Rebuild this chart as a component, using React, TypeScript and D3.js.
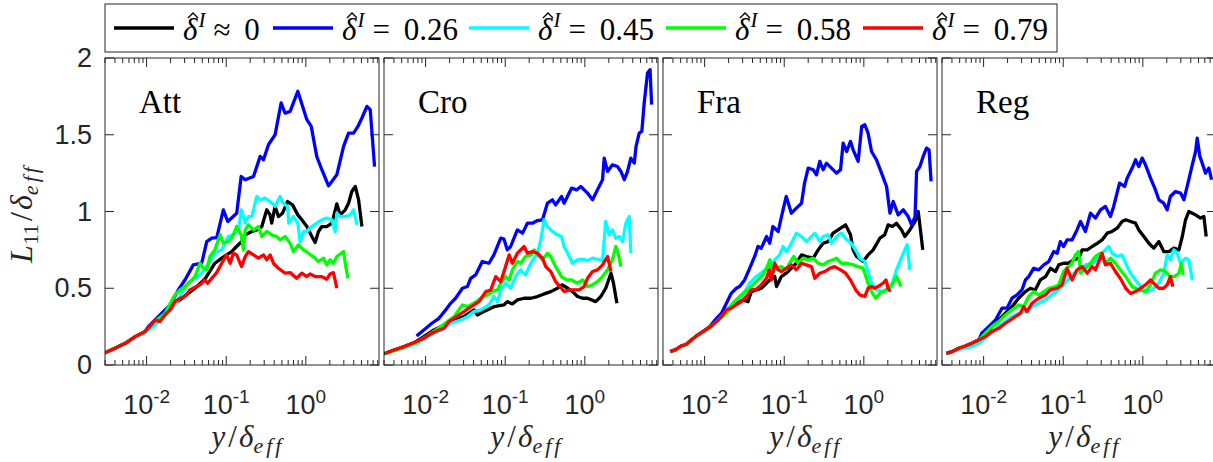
import React, { useRef, useEffect } from 'react';
import * as d3 from 'd3';

type Pt = [number, number];

const panelNames = ['Att', 'Cro', 'Fra', 'Reg'];
const seriesLabels = ['≈ 0', '= 0.26', '= 0.45', '= 0.58', '= 0.79'];
const seriesColors = ['#000000', '#0000ff', '#00ffff', '#00ff00', '#ff0000'];
const yTicks = [0, 0.5, 1, 1.5, 2];
const yTickLabels = ['0', '0.5', '1', '1.5', '2'];
const xTickExps = [-2, -1, 0];

// ---- Att ----
const attBlack: Pt[] = [[0.0029, 0.076], [0.004, 0.109], [0.0054, 0.141], [0.0072, 0.185], [0.0095, 0.217], [0.0127, 0.27], [0.017, 0.33], [0.0227, 0.40], [0.0303, 0.45], [0.0405, 0.50], [0.054, 0.56], [0.072, 0.663], [0.0878, 0.696], [0.101, 0.717], [0.117, 0.739], [0.135, 0.772], [0.156, 0.804], [0.173, 0.848], [0.21, 0.87], [0.242, 0.88], [0.28, 0.902], [0.323, 1.011], [0.356, 0.978], [0.373, 0.924], [0.411, 1.033], [0.453, 0.967], [0.51, 0.989], [0.59, 1.065], [0.68, 1.043], [0.793, 0.978], [0.89, 0.946], [1.03, 0.902], [1.19, 0.837], [1.31, 0.798], [1.44, 0.87], [1.59, 0.902], [1.83, 0.902], [2.13, 0.924], [2.45, 1.05], [2.70, 0.978], [3.13, 1.011], [3.44, 1.054], [3.78, 1.13], [4.18, 1.163], [4.6, 1.076], [5.06, 0.902]];
const attBlue: Pt[] = [[0.0029, 0.076], [0.004, 0.109], [0.0054, 0.141], [0.0072, 0.185], [0.0095, 0.217], [0.0105, 0.25], [0.0197, 0.391], [0.025, 0.489], [0.0303, 0.554], [0.0386, 0.652], [0.0492, 0.663], [0.0569, 0.804], [0.0658, 0.826], [0.076, 0.83], [0.092, 1.011], [0.1045, 0.935], [0.1355, 0.989], [0.154, 1.228], [0.173, 1.207], [0.22, 1.228], [0.267, 1.359], [0.294, 1.337], [0.339, 1.435], [0.411, 1.5], [0.489, 1.707], [0.549, 1.641], [0.635, 1.652], [0.793, 1.783], [1.03, 1.598], [1.17, 1.554], [1.37, 1.359], [1.59, 1.272], [1.93, 1.167], [2.45, 1.239], [2.98, 1.424], [3.44, 1.511], [3.98, 1.511], [4.51, 1.554], [5.06, 1.609], [5.85, 1.685], [6.44, 1.663], [7.3, 1.293]];
const attCyan: Pt[] = [[0.0029, 0.076], [0.004, 0.109], [0.0054, 0.141], [0.0072, 0.18], [0.0095, 0.21], [0.0127, 0.26], [0.017, 0.33], [0.021, 0.37], [0.025, 0.424], [0.029, 0.489], [0.0335, 0.533], [0.0405, 0.565], [0.0492, 0.598], [0.06, 0.663], [0.072, 0.728], [0.0878, 0.75], [0.106, 0.837], [0.123, 0.848], [0.142, 0.88], [0.156, 1.011], [0.173, 0.924], [0.19, 0.967], [0.21, 0.967], [0.242, 1.098], [0.267, 1.076], [0.308, 1.087], [0.356, 1.065], [0.411, 1.033], [0.475, 1.098], [0.52, 1.054], [0.59, 1.033], [0.61, 0.924], [0.7, 0.967], [0.793, 0.924], [0.849, 0.804], [0.94, 0.87], [1.03, 0.87], [1.19, 0.902], [1.37, 0.924], [1.59, 0.946], [1.83, 0.957], [2.13, 0.946], [2.34, 0.87], [2.45, 0.989], [2.70, 0.967], [3.13, 0.967], [3.61, 0.978], [3.98, 1.011], [4.4, 0.913]];
const attGreen: Pt[] = [[0.0029, 0.076], [0.004, 0.109], [0.0054, 0.141], [0.0072, 0.185], [0.0095, 0.217], [0.0127, 0.283], [0.017, 0.337], [0.0197, 0.398], [0.0227, 0.457], [0.0263, 0.489], [0.0303, 0.511], [0.035, 0.543], [0.0405, 0.576], [0.0468, 0.663], [0.0515, 0.63], [0.057, 0.62], [0.0625, 0.707], [0.072, 0.75], [0.084, 0.848], [0.092, 0.793], [0.106, 0.804], [0.12, 0.837], [0.135, 0.902], [0.154, 0.848], [0.165, 0.75], [0.173, 0.88], [0.19, 0.913], [0.22, 0.88], [0.254, 0.902], [0.28, 0.837], [0.323, 0.87], [0.373, 0.848], [0.43, 0.837], [0.475, 0.815], [0.549, 0.837], [0.635, 0.793], [0.7, 0.739], [0.81, 0.783], [0.94, 0.75], [1.08, 0.728], [1.31, 0.696], [1.44, 0.674], [1.67, 0.696], [1.83, 0.652], [2.02, 0.685], [2.22, 0.663], [2.45, 0.707], [2.98, 0.739], [3.13, 0.663], [3.37, 0.565]];
const attRed: Pt[] = [[0.0029, 0.076], [0.004, 0.109], [0.0054, 0.141], [0.0072, 0.185], [0.0095, 0.217], [0.011, 0.25], [0.0127, 0.293], [0.0147, 0.283], [0.017, 0.326], [0.0197, 0.359], [0.0227, 0.413], [0.0263, 0.435], [0.0303, 0.446], [0.035, 0.489], [0.0405, 0.507], [0.0468, 0.522], [0.054, 0.554], [0.0585, 0.532], [0.0658, 0.565], [0.076, 0.602], [0.0878, 0.663], [0.101, 0.717], [0.112, 0.663], [0.123, 0.728], [0.135, 0.717], [0.156, 0.641], [0.173, 0.706], [0.19, 0.739], [0.22, 0.717], [0.254, 0.696], [0.294, 0.717], [0.323, 0.685], [0.356, 0.717], [0.392, 0.663], [0.453, 0.63], [0.549, 0.598], [0.635, 0.602], [0.765, 0.565], [0.89, 0.598], [1.03, 0.576], [1.13, 0.593], [1.31, 0.576], [1.59, 0.576], [1.83, 0.559], [2.02, 0.593], [2.22, 0.602], [2.34, 0.55], [2.45, 0.5]];

// ---- Cro ----
const croBlack: Pt[] = [[0.003, 0.072], [0.004, 0.098], [0.0054, 0.12], [0.0072, 0.146], [0.0095, 0.185], [0.0127, 0.228], [0.0155, 0.25], [0.0206, 0.283], [0.0303, 0.315], [0.0405, 0.359], [0.0445, 0.326], [0.054, 0.348], [0.072, 0.38], [0.0966, 0.391], [0.106, 0.413], [0.123, 0.398], [0.142, 0.424], [0.173, 0.435], [0.21, 0.435], [0.254, 0.446], [0.308, 0.463], [0.373, 0.478], [0.453, 0.5], [0.52, 0.522], [0.61, 0.5], [0.7, 0.478], [0.81, 0.446], [0.94, 0.435], [1.08, 0.435], [1.37, 0.413], [1.59, 0.446], [1.83, 0.5], [2.13, 0.598], [2.29, 0.533], [2.53, 0.402]];
const croBlue: Pt[] = [[0.0077, 0.189], [0.0095, 0.228], [0.012, 0.272], [0.0147, 0.304], [0.0179, 0.359], [0.0206, 0.402], [0.0238, 0.435], [0.029, 0.5], [0.0335, 0.511], [0.0368, 0.565], [0.0425, 0.587], [0.0515, 0.674], [0.0625, 0.663], [0.072, 0.717], [0.0878, 0.826], [0.0966, 0.82], [0.106, 0.75], [0.117, 0.772], [0.142, 0.88], [0.165, 0.859], [0.19, 0.924], [0.22, 0.924], [0.254, 0.941], [0.294, 0.946], [0.339, 1.054], [0.392, 1.076], [0.43, 1.043], [0.51, 1.098], [0.549, 1.054], [0.68, 1.152], [0.793, 1.141], [0.89, 1.163], [1.08, 1.12], [1.25, 1.076], [1.44, 1.141], [1.67, 1.207], [1.75, 1.348], [1.93, 1.261], [2.22, 1.304], [2.57, 1.293], [2.84, 1.261], [3.13, 1.207], [3.44, 1.261], [3.78, 1.348], [4.18, 1.315], [4.4, 1.424], [4.82, 1.511], [5.2, 1.522], [5.57, 1.707], [6.13, 1.902], [6.6, 1.924], [6.9, 1.696]];
const croCyan: Pt[] = [[0.0031, 0.076], [0.0044, 0.098], [0.0059, 0.12], [0.0079, 0.141], [0.0105, 0.185], [0.0155, 0.228], [0.0206, 0.272], [0.0275, 0.293], [0.0335, 0.315], [0.0405, 0.348], [0.0492, 0.359], [0.0625, 0.391], [0.072, 0.446], [0.08, 0.413], [0.0878, 0.489], [0.101, 0.533], [0.117, 0.5], [0.135, 0.576], [0.156, 0.62], [0.18, 0.587], [0.21, 0.663], [0.254, 0.728], [0.28, 0.815], [0.308, 0.946], [0.339, 0.902], [0.392, 0.87], [0.453, 0.848], [0.51, 0.837], [0.549, 0.772], [0.61, 0.728], [0.7, 0.663], [0.81, 0.685], [0.94, 0.689], [1.08, 0.68], [1.25, 0.696], [1.44, 0.689], [1.67, 0.68], [1.83, 0.935], [2.02, 0.848], [2.22, 0.88], [2.45, 0.826], [2.70, 0.837], [2.98, 0.804], [3.28, 0.924], [3.61, 0.967], [3.78, 0.728]];
const croGreen: Pt[] = [[0.0031, 0.076], [0.0044, 0.1], [0.0059, 0.125], [0.0079, 0.15], [0.0105, 0.19], [0.0155, 0.25], [0.0188, 0.283], [0.0227, 0.315], [0.029, 0.391], [0.0335, 0.38], [0.0405, 0.402], [0.0492, 0.435], [0.06, 0.457], [0.068, 0.478], [0.08, 0.489], [0.0878, 0.533], [0.101, 0.576], [0.112, 0.554], [0.123, 0.62], [0.142, 0.674], [0.156, 0.663], [0.18, 0.707], [0.21, 0.717], [0.231, 0.75], [0.267, 0.707], [0.294, 0.685], [0.339, 0.728], [0.373, 0.707], [0.43, 0.641], [0.51, 0.576], [0.59, 0.554], [0.68, 0.554], [0.81, 0.533], [0.94, 0.554], [1.08, 0.511], [1.25, 0.522], [1.44, 0.543], [1.67, 0.576], [1.93, 0.62], [2.22, 0.685], [2.45, 0.772], [2.57, 0.75], [2.84, 0.641]];
const croRed: Pt[] = [[0.0031, 0.076], [0.004, 0.098], [0.0054, 0.12], [0.0072, 0.146], [0.0095, 0.174], [0.012, 0.207], [0.0147, 0.228], [0.017, 0.239], [0.0197, 0.283], [0.0227, 0.304], [0.0263, 0.326], [0.0303, 0.348], [0.035, 0.37], [0.0405, 0.391], [0.0468, 0.413], [0.057, 0.478], [0.0658, 0.489], [0.076, 0.576], [0.0878, 0.543], [0.101, 0.641], [0.112, 0.717], [0.123, 0.663], [0.142, 0.728], [0.173, 0.772], [0.19, 0.728], [0.22, 0.739], [0.254, 0.728], [0.294, 0.696], [0.323, 0.641], [0.373, 0.609], [0.43, 0.543], [0.51, 0.5], [0.549, 0.478], [0.635, 0.489], [0.734, 0.489], [0.849, 0.489], [0.98, 0.511], [1.08, 0.565], [1.25, 0.609], [1.44, 0.62], [1.67, 0.652], [1.93, 0.707], [2.13, 0.609]];

// ---- Fra ----
const fraBlack: Pt[] = [[0.0037, 0.087], [0.0044, 0.102], [0.0051, 0.124], [0.0059, 0.135], [0.0068, 0.163], [0.0079, 0.189], [0.0095, 0.217], [0.0116, 0.246], [0.0141, 0.283], [0.0188, 0.35], [0.025, 0.40], [0.0303, 0.424], [0.035, 0.413], [0.0386, 0.478], [0.0445, 0.489], [0.0515, 0.5], [0.06, 0.533], [0.069, 0.565], [0.076, 0.576], [0.08, 0.511], [0.092, 0.576], [0.106, 0.598], [0.117, 0.62], [0.142, 0.663], [0.165, 0.717], [0.19, 0.707], [0.231, 0.696], [0.267, 0.75], [0.308, 0.793], [0.356, 0.804], [0.411, 0.859], [0.475, 0.88], [0.59, 0.913], [0.68, 0.848], [0.734, 0.75], [0.81, 0.707], [0.98, 0.674], [1.13, 0.717], [1.31, 0.75], [1.59, 0.826], [1.83, 0.848], [2.02, 0.913], [2.29, 0.902], [2.57, 0.924], [2.98, 0.88], [3.28, 0.837], [3.78, 0.88], [4.4, 0.935], [4.82, 1.0], [5.2, 0.859], [5.5, 0.75]];
const fraBlue: Pt[] = [[0.0037, 0.087], [0.0044, 0.102], [0.0051, 0.124], [0.0059, 0.135], [0.0068, 0.163], [0.0079, 0.189], [0.0095, 0.217], [0.0116, 0.25], [0.0141, 0.304], [0.0163, 0.337], [0.0188, 0.402], [0.0216, 0.467], [0.025, 0.5], [0.0275, 0.511], [0.0318, 0.554], [0.0368, 0.63], [0.0425, 0.707], [0.0468, 0.772], [0.0515, 0.761], [0.06, 0.837], [0.0658, 0.793], [0.072, 0.902], [0.084, 0.87], [0.0966, 1.011], [0.106, 1.098], [0.123, 0.989], [0.142, 1.022], [0.165, 1.054], [0.18, 1.185], [0.2, 1.283], [0.231, 1.272], [0.254, 1.239], [0.28, 1.326], [0.308, 1.272], [0.339, 1.315], [0.392, 1.283], [0.453, 1.25], [0.51, 1.272], [0.549, 1.446], [0.61, 1.391], [0.68, 1.457], [0.734, 1.402], [0.849, 1.326], [0.94, 1.554], [1.03, 1.565], [1.13, 1.511], [1.25, 1.391], [1.44, 1.337], [1.67, 1.25], [1.93, 1.163], [2.13, 0.989], [2.34, 1.065], [2.70, 0.978], [3.13, 1.011], [3.61, 0.967], [3.98, 0.913], [4.4, 0.967], [4.6, 1.261], [5.06, 1.293], [5.57, 1.359], [6.13, 1.413], [6.6, 1.402], [7.0, 1.196]];
const fraCyan: Pt[] = [[0.0037, 0.087], [0.0044, 0.102], [0.0051, 0.124], [0.0059, 0.135], [0.0068, 0.16], [0.0079, 0.185], [0.0095, 0.21], [0.0116, 0.24], [0.0141, 0.28], [0.017, 0.326], [0.0206, 0.38], [0.025, 0.424], [0.0303, 0.457], [0.0368, 0.533], [0.0445, 0.576], [0.054, 0.609], [0.0658, 0.641], [0.076, 0.685], [0.0878, 0.717], [0.0966, 0.772], [0.106, 0.739], [0.117, 0.772], [0.129, 0.815], [0.142, 0.859], [0.165, 0.837], [0.19, 0.804], [0.21, 0.826], [0.242, 0.859], [0.28, 0.804], [0.308, 0.837], [0.356, 0.848], [0.392, 0.793], [0.453, 0.837], [0.52, 0.859], [0.61, 0.815], [0.7, 0.793], [0.81, 0.739], [0.89, 0.696], [1.03, 0.674], [1.13, 0.609], [1.25, 0.533], [1.44, 0.489], [1.75, 0.478], [2.02, 0.489], [2.22, 0.511], [2.57, 0.62], [3.13, 0.728], [3.5, 0.783], [3.78, 0.62]];
const fraGreen: Pt[] = [[0.0037, 0.087], [0.0044, 0.102], [0.0051, 0.124], [0.0059, 0.135], [0.0068, 0.163], [0.0079, 0.189], [0.0095, 0.217], [0.0116, 0.246], [0.0141, 0.283], [0.0188, 0.337], [0.0227, 0.402], [0.0263, 0.435], [0.0303, 0.467], [0.0368, 0.5], [0.0445, 0.543], [0.054, 0.587], [0.0625, 0.652], [0.0658, 0.685], [0.071, 0.598], [0.08, 0.63], [0.092, 0.641], [0.106, 0.62], [0.117, 0.663], [0.132, 0.707], [0.149, 0.663], [0.173, 0.696], [0.2, 0.685], [0.231, 0.696], [0.267, 0.663], [0.308, 0.652], [0.356, 0.674], [0.411, 0.685], [0.453, 0.696], [0.52, 0.663], [0.61, 0.663], [0.734, 0.652], [0.849, 0.641], [0.98, 0.63], [1.13, 0.533], [1.25, 0.478], [1.41, 0.435], [1.59, 0.467], [1.75, 0.478], [2.02, 0.5], [2.34, 0.533], [2.57, 0.576], [2.77, 0.543], [2.9, 0.511]];
const fraRed: Pt[] = [[0.0037, 0.087], [0.0044, 0.102], [0.0051, 0.124], [0.0059, 0.135], [0.0068, 0.163], [0.0079, 0.189], [0.0095, 0.217], [0.0116, 0.246], [0.0141, 0.283], [0.0163, 0.315], [0.0188, 0.359], [0.0216, 0.37], [0.025, 0.391], [0.029, 0.413], [0.0335, 0.446], [0.0386, 0.489], [0.0445, 0.493], [0.0515, 0.522], [0.06, 0.565], [0.0645, 0.62], [0.069, 0.554], [0.076, 0.663], [0.084, 0.62], [0.092, 0.609], [0.106, 0.63], [0.123, 0.652], [0.142, 0.62], [0.165, 0.663], [0.19, 0.652], [0.22, 0.641], [0.242, 0.565], [0.28, 0.598], [0.323, 0.609], [0.373, 0.63], [0.43, 0.641], [0.51, 0.62], [0.59, 0.598], [0.68, 0.554], [0.793, 0.489], [0.89, 0.457], [1.03, 0.446], [1.13, 0.5], [1.25, 0.511], [1.37, 0.5], [1.51, 0.511], [1.75, 0.533], [1.9, 0.554], [2.02, 0.5], [2.16, 0.478]];

// ---- Reg ----
const regBlack: Pt[] = [[0.0034, 0.076], [0.004, 0.087], [0.0049, 0.109], [0.0059, 0.124], [0.0071, 0.141], [0.0087, 0.163], [0.0105, 0.19], [0.0127, 0.25], [0.0155, 0.293], [0.0188, 0.337], [0.0227, 0.38], [0.0275, 0.435], [0.0335, 0.478], [0.0386, 0.5], [0.0445, 0.489], [0.0515, 0.554], [0.06, 0.576], [0.069, 0.63], [0.08, 0.609], [0.0878, 0.652], [0.101, 0.663], [0.117, 0.663], [0.135, 0.685], [0.156, 0.696], [0.173, 0.75], [0.2, 0.75], [0.231, 0.772], [0.267, 0.793], [0.308, 0.815], [0.356, 0.859], [0.411, 0.87], [0.475, 0.891], [0.549, 0.935], [0.61, 0.946], [0.7, 0.935], [0.81, 0.924], [0.89, 0.88], [1.03, 0.837], [1.19, 0.793], [1.37, 0.761], [1.59, 0.804], [1.83, 0.739], [2.13, 0.739], [2.45, 0.761], [2.84, 0.75], [3.13, 0.837], [3.44, 0.946], [3.78, 1.0], [4.18, 0.989], [4.6, 0.978], [5.3, 0.957], [5.85, 0.967], [6.25, 0.837]];
const regBlue: Pt[] = [[0.0034, 0.076], [0.004, 0.087], [0.0049, 0.109], [0.0059, 0.124], [0.0071, 0.141], [0.0087, 0.163], [0.0095, 0.207], [0.0116, 0.25], [0.0141, 0.293], [0.017, 0.37], [0.0197, 0.37], [0.0227, 0.435], [0.0263, 0.457], [0.0303, 0.489], [0.0335, 0.554], [0.0368, 0.576], [0.0425, 0.63], [0.0492, 0.62], [0.057, 0.652], [0.0658, 0.674], [0.076, 0.739], [0.084, 0.728], [0.092, 0.804], [0.101, 0.772], [0.112, 0.815], [0.129, 0.815], [0.149, 0.88], [0.165, 0.935], [0.19, 0.87], [0.22, 0.989], [0.254, 0.957], [0.294, 1.011], [0.339, 1.033], [0.392, 0.967], [0.43, 1.033], [0.51, 1.185], [0.59, 1.163], [0.635, 1.217], [0.734, 1.283], [0.81, 1.337], [0.89, 1.293], [0.98, 1.348], [1.08, 1.304], [1.25, 1.217], [1.44, 1.141], [1.59, 1.076], [1.83, 1.054], [2.02, 1.011], [2.22, 1.098], [2.57, 1.13], [2.98, 1.12], [3.28, 1.076], [3.78, 1.207], [4.18, 1.304], [4.6, 1.391], [4.82, 1.478], [5.2, 1.359], [5.57, 1.315], [6.13, 1.25], [6.75, 1.283], [7.3, 1.207]];
const regCyan: Pt[] = [[0.0034, 0.076], [0.004, 0.087], [0.0049, 0.1], [0.0059, 0.11], [0.0071, 0.12], [0.0087, 0.141], [0.0105, 0.174], [0.0127, 0.217], [0.0155, 0.25], [0.0188, 0.283], [0.0227, 0.315], [0.0275, 0.337], [0.0335, 0.348], [0.0405, 0.38], [0.0492, 0.402], [0.06, 0.424], [0.072, 0.457], [0.0878, 0.489], [0.106, 0.533], [0.129, 0.587], [0.156, 0.62], [0.19, 0.652], [0.231, 0.663], [0.28, 0.696], [0.323, 0.739], [0.373, 0.772], [0.411, 0.728], [0.475, 0.707], [0.549, 0.717], [0.61, 0.663], [0.7, 0.598], [0.81, 0.554], [0.94, 0.511], [1.08, 0.478], [1.31, 0.489], [1.59, 0.533], [1.83, 0.598], [2.02, 0.717], [2.22, 0.685], [2.45, 0.75], [2.70, 0.728], [2.98, 0.663], [3.44, 0.696], [3.78, 0.685], [4.18, 0.554]];
const regGreen: Pt[] = [[0.0034, 0.076], [0.004, 0.087], [0.0049, 0.109], [0.0059, 0.124], [0.0071, 0.141], [0.0087, 0.163], [0.0105, 0.207], [0.0127, 0.25], [0.0155, 0.283], [0.0188, 0.326], [0.0227, 0.359], [0.0275, 0.391], [0.0318, 0.38], [0.0368, 0.446], [0.0425, 0.478], [0.0492, 0.457], [0.057, 0.478], [0.0658, 0.5], [0.076, 0.507], [0.0878, 0.522], [0.101, 0.609], [0.117, 0.641], [0.129, 0.663], [0.142, 0.717], [0.156, 0.739], [0.165, 0.598], [0.19, 0.63], [0.22, 0.663], [0.254, 0.707], [0.294, 0.728], [0.339, 0.663], [0.392, 0.696], [0.453, 0.663], [0.52, 0.62], [0.61, 0.576], [0.734, 0.511], [0.89, 0.489], [1.08, 0.478], [1.25, 0.522], [1.44, 0.598], [1.67, 0.62], [1.93, 0.609], [2.22, 0.576], [2.5, 0.576], [2.84, 0.598], [3.05, 0.663], [3.2, 0.587]];
const regRed: Pt[] = [[0.0034, 0.076], [0.004, 0.087], [0.0049, 0.109], [0.0059, 0.124], [0.0071, 0.141], [0.0087, 0.163], [0.0105, 0.185], [0.0127, 0.217], [0.0155, 0.239], [0.0188, 0.272], [0.0216, 0.293], [0.025, 0.315], [0.029, 0.337], [0.0318, 0.38], [0.035, 0.348], [0.0405, 0.402], [0.0492, 0.435], [0.06, 0.457], [0.069, 0.489], [0.084, 0.5], [0.0966, 0.522], [0.112, 0.63], [0.129, 0.554], [0.149, 0.62], [0.173, 0.641], [0.2, 0.598], [0.231, 0.641], [0.254, 0.62], [0.28, 0.674], [0.308, 0.728], [0.339, 0.652], [0.392, 0.663], [0.453, 0.609], [0.52, 0.565], [0.61, 0.5], [0.7, 0.467], [0.81, 0.478], [0.94, 0.5], [1.08, 0.522], [1.25, 0.554], [1.44, 0.522], [1.59, 0.5], [1.83, 0.5], [2.02, 0.522], [2.22, 0.576], [2.38, 0.511]];

const panelSeries: Pt[][][] = [
    [attBlack, attBlue, attCyan, attGreen, attRed],
    [croBlack, croBlue, croCyan, croGreen, croRed],
    [fraBlack, fraBlue, fraCyan, fraGreen, fraRed],
    [regBlack, regBlue, regCyan, regGreen, regRed],
];

const W = 1213;
const H = 462;
const axisColor = '#262626';
const serif = "'Liberation Serif', 'DejaVu Serif', serif";
const sans = "'Liberation Sans', Arial, sans-serif";

const App = () => {
    const ref = useRef<SVGSVGElement>(null);

    useEffect(() => {
        const top = 58, bottom = 365, pw = 274, gap = 279, left0 = 105;
        const svg = d3.select(ref.current);
        svg.selectAll('*').remove();
        const defs = svg.append('defs');

        const y = d3.scaleLinear().domain([0, 2]).range([bottom, top]);

        panelNames.forEach((name, i) => {
            const x0 = left0 + i * gap;
            const x = d3.scaleLog().domain([0.003, 8.3]).range([x0, x0 + pw]);
            const g = svg.append('g');

            defs.append('clipPath').attr('id', `clip${i}`)
                .append('rect').attr('x', x0).attr('y', top).attr('width', pw).attr('height', bottom - top);

            // x ticks, top and bottom, pointing in
            const xt: { v: number; major: boolean }[] = [];
            for (let e = -3; e <= 0; e++) {
                for (let m = 1; m <= 9; m++) {
                    const v = m * Math.pow(10, e);
                    if (v >= 0.003 && v <= 8.3) xt.push({ v, major: m === 1 });
                }
            }
            xt.forEach(t => {
                const len = t.major ? 9 : 5;
                const px = x(t.v);
                g.append('line').attr('x1', px).attr('x2', px).attr('y1', bottom).attr('y2', bottom - len)
                    .attr('stroke', axisColor).attr('stroke-width', 1);
                g.append('line').attr('x1', px).attr('x2', px).attr('y1', top).attr('y2', top + len)
                    .attr('stroke', axisColor).attr('stroke-width', 1);
            });
            yTicks.forEach(v => {
                g.append('line').attr('x1', x0).attr('x2', x0 + 9).attr('y1', y(v)).attr('y2', y(v))
                    .attr('stroke', axisColor);
                g.append('line').attr('x1', x0 + pw).attr('x2', x0 + pw - 9).attr('y1', y(v)).attr('y2', y(v))
                    .attr('stroke', axisColor);
            });

            // x tick labels 10^k
            xTickExps.forEach(e => {
                const t = g.append('text').attr('x', x(Math.pow(10, e))).attr('y', 414)
                    .attr('text-anchor', 'middle').style('font-family', sans).attr('font-size', 27)
                    .attr('fill', axisColor);
                t.append('tspan').text('10');
                t.append('tspan').attr('dy', -11).attr('font-size', 19).text(String(e));
            });

            // x label
            const xl = g.append('text').attr('x', x0 + pw / 2 + 6).attr('y', 447)
                .attr('text-anchor', 'middle').style('font-family', serif).attr('font-size', 31)
                .attr('font-style', 'italic').attr('fill', axisColor);
            xl.append('tspan').text('y');
            xl.append('tspan').attr('font-style', 'normal').attr('dx', 3).text('/');
            xl.append('tspan').attr('dx', 2).text('δ');
            xl.append('tspan').attr('dy', 6).attr('font-size', 22).attr('letter-spacing', 3).text('eff');

            // panel name
            g.append('text').attr('x', x0 + 34).attr('y', 113).style('font-family', serif)
                .attr('font-size', 33).attr('fill', '#000').text(name);

            // data lines
            const line = d3.line<Pt>().x(d => x(d[0])).y(d => y(d[1]));
            panelSeries[i].forEach((s, k) => {
                g.append('path').attr('d', line(s) || '').attr('fill', 'none')
                    .attr('stroke', seriesColors[k]).attr('stroke-width', 3.3)
                    .attr('stroke-linejoin', 'round').attr('clip-path', `url(#clip${i})`);
            });

            // box
            g.append('rect').attr('x', x0).attr('y', top).attr('width', pw).attr('height', bottom - top)
                .attr('fill', 'none').attr('stroke', axisColor).attr('stroke-width', 1);
        });

        // y tick labels (first panel only)
        yTicks.forEach((v, j) => {
            svg.append('text').attr('x', 92).attr('y', y(v)).attr('text-anchor', 'end')
                .attr('dominant-baseline', 'central').style('font-family', sans).attr('font-size', 27)
                .attr('fill', axisColor).text(yTickLabels[j]);
        });

        // y label
        const yl = svg.append('text').attr('transform', `translate(32,${(top + bottom) / 2 + 2}) rotate(-90)`)
            .attr('text-anchor', 'middle').style('font-family', serif).attr('font-size', 32)
            .attr('font-style', 'italic').attr('fill', axisColor);
        yl.append('tspan').text('L');
        yl.append('tspan').attr('dy', 6).attr('font-size', 22).attr('font-style', 'normal').text('11');
        yl.append('tspan').attr('dy', -6).attr('font-style', 'normal').attr('dx', 3).text('/');
        yl.append('tspan').attr('dx', 2).text('δ');
        yl.append('tspan').attr('dy', 6).attr('font-size', 22).attr('letter-spacing', 3).text('eff');

        // legend
        const legendX = [114, 273, 469, 666, 863];
        svg.append('rect').attr('x', 105).attr('y', 4).attr('width', 952).attr('height', 48)
            .attr('fill', '#fff').attr('stroke', axisColor).attr('stroke-width', 1);
        seriesLabels.forEach((lab, k) => {
            const lx = legendX[k];
            svg.append('line').attr('x1', lx).attr('x2', lx + 60).attr('y1', 28).attr('y2', 28)
                .attr('stroke', seriesColors[k]).attr('stroke-width', 3.3);
            const t = svg.append('text').attr('x', lx + 69).attr('y', 40).style('font-family', serif)
                .attr('font-size', 31).attr('fill', '#000');
            t.append('tspan').attr('font-style', 'italic').text('δ');
            t.append('tspan').attr('font-style', 'italic').attr('font-size', 21).attr('dy', -13).attr('dx', 1).text('I');
            t.append('tspan').attr('dy', 13).attr('dx', 8).attr('word-spacing', 6).text(lab);
            // hat over delta
            svg.append('path')
                .attr('d', `M${lx + 74},${18} L${lx + 79},${13} L${lx + 84},${18}`)
                .attr('fill', 'none').attr('stroke', '#000').attr('stroke-width', 1.4);
        });
    }, []);

    return (
        <svg ref={ref} width={W} height={H} style={{ position: 'absolute', left: 0, top: 0, background: '#fff' }} />
    );
};

export default App;
